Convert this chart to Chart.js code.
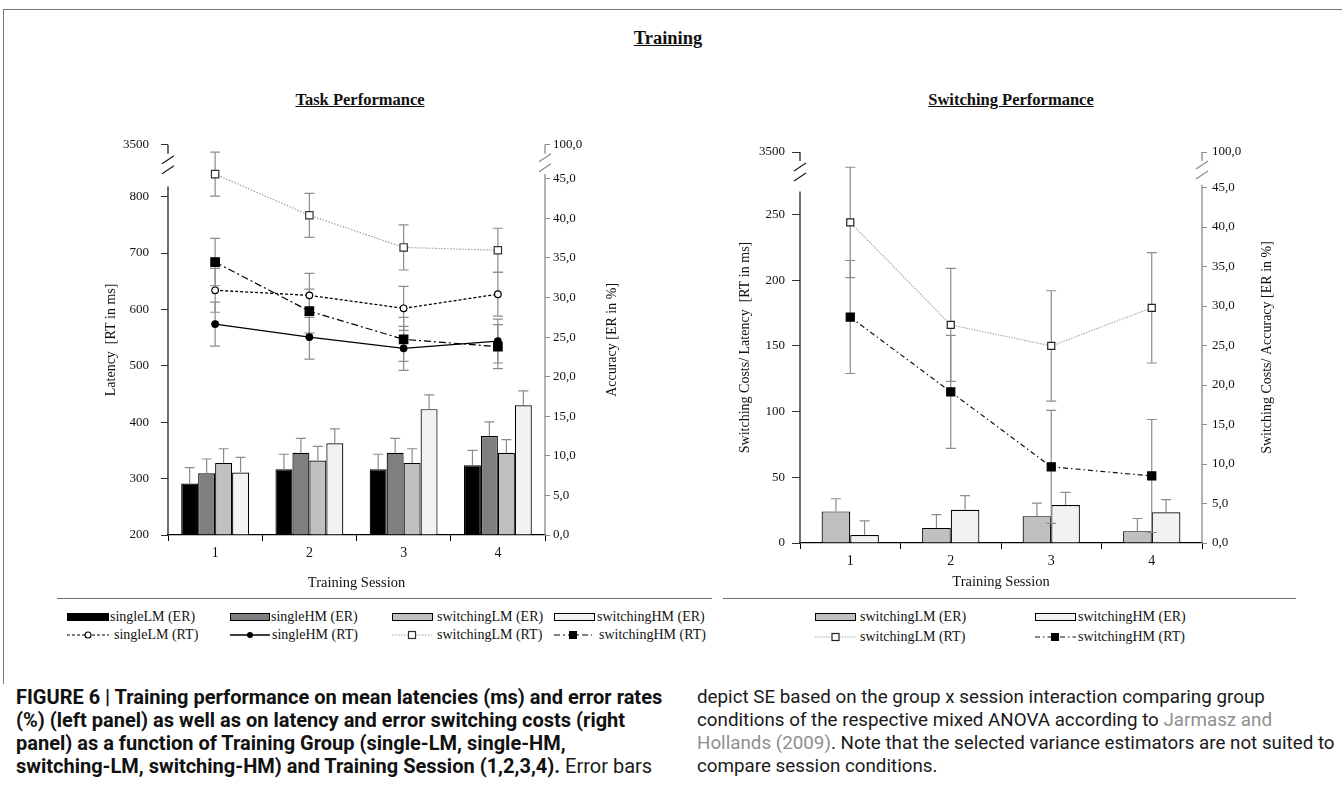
<!DOCTYPE html>
<html>
<head>
<meta charset="utf-8">
<script src="https://cdn.jsdelivr.net/npm/chart.js@4.4.0/dist/chart.umd.min.js"></script>
<style>
  body { margin: 0; width: 1342px; height: 791px; background: #fff; position: relative; overflow: hidden; font-family: 'Liberation Serif', 'Times New Roman', serif; color: #111; }
  .abs { position: absolute; }
  .head { position: absolute; text-align: center; font-weight: bold; text-decoration: underline; white-space: nowrap; }
  .sep { position: absolute; height: 0; border-top: 1.5px solid #6e6e6e; }
  .leg { position: absolute; font-size: 14px; line-height: 16px; white-space: nowrap; }
  .leg svg { position: absolute; }
  .cap { position: absolute; font-family: Roboto, 'Liberation Sans', sans-serif; line-height: 23px; white-space: nowrap; color: #1a1a1a; }
  .cap b { font-weight: bold; color: #111; }
  .ref { color: #8f8f8f; }
</style>
</head>
<body>
<div class="abs" style="left:3px;top:9px;width:1339px;border-top:1px solid #777;"></div>
<div class="abs" style="left:3px;top:9px;height:675px;border-left:1px solid #777;"></div>

<div class="head" style="left:568px;width:200px;top:28px;font-size:18.5px;">Training</div>
<div class="head" style="left:260px;width:200px;top:90px;font-size:16.5px;">Task Performance</div>
<div class="head" style="left:911px;width:200px;top:90px;font-size:16.5px;">Switching Performance</div>

<div class="abs" style="left:60px;top:125px;"><canvas id="taskChart" width="650" height="470"></canvas></div>
<div class="abs" style="left:715px;top:130px;"><canvas id="costChart" width="615" height="465"></canvas></div>

<div class="sep" style="left:57px;top:598px;width:655px;"></div>
<div class="sep" style="left:723px;top:598px;width:573px;"></div>

<!-- left legend -->
<div class="leg" style="left:67px;top:609px;"><svg width="42" height="10" style="left:0;top:3px"><rect x="0.5" y="1.5" width="41" height="7" fill="#000" stroke="#000"/></svg><span style="position:absolute;left:43px">singleLM&nbsp;(ER)</span></div>
<div class="leg" style="left:230px;top:609px;"><svg width="42" height="10" style="left:0;top:3px"><rect x="0.5" y="1.5" width="39" height="7" fill="#7f7f7f" stroke="#000"/></svg><span style="position:absolute;left:41px">singleHM&nbsp;(ER)</span></div>
<div class="leg" style="left:392px;top:609px;"><svg width="42" height="10" style="left:0;top:3px"><rect x="0.5" y="1.5" width="40" height="7" fill="#c0c0c0" stroke="#000"/></svg><span style="position:absolute;left:45px">switchingLM&nbsp;(ER)</span></div>
<div class="leg" style="left:554px;top:609px;"><svg width="42" height="10" style="left:0;top:3px"><rect x="0.5" y="1.5" width="40" height="7" fill="#f2f2f2" stroke="#000"/></svg><span style="position:absolute;left:43px">switchingHM&nbsp;(ER)</span></div>

<div class="leg" style="left:67px;top:627px;"><svg width="44" height="10" style="left:0;top:3px"><line x1="0" y1="5" x2="42" y2="5" stroke="#000" stroke-width="1.2" stroke-dasharray="3 2"/><circle cx="21" cy="5" r="3" fill="#fff" stroke="#000" stroke-width="1.1"/></svg><span style="position:absolute;left:47px">singleLM&nbsp;(RT)</span></div>
<div class="leg" style="left:230px;top:627px;"><svg width="42" height="10" style="left:0;top:3px"><line x1="0" y1="5" x2="40" y2="5" stroke="#000" stroke-width="1.3"/><circle cx="20" cy="5" r="3" fill="#000"/></svg><span style="position:absolute;left:42px">singleHM&nbsp;(RT)</span></div>
<div class="leg" style="left:392px;top:627px;"><svg width="42" height="10" style="left:0;top:3px"><line x1="0" y1="5" x2="40" y2="5" stroke="#9a9a9a" stroke-width="1" stroke-dasharray="1.5 1.5"/><rect x="16.5" y="1.5" width="7" height="7" fill="#fff" stroke="#333" stroke-width="1.2"/></svg><span style="position:absolute;left:45px">switchingLM&nbsp;(RT)</span></div>
<div class="leg" style="left:554px;top:627px;"><svg width="42" height="10" style="left:0;top:3px"><line x1="0" y1="5" x2="38" y2="5" stroke="#000" stroke-width="1.2" stroke-dasharray="6 3 2 3"/><rect x="15" y="1" width="8" height="8" fill="#000"/></svg><span style="position:absolute;left:45px">switchingHM&nbsp;(RT)</span></div>

<!-- right legend -->
<div class="leg" style="left:815px;top:609px;"><svg width="42" height="10" style="left:0;top:3px"><rect x="0.5" y="1.5" width="40" height="7" fill="#c0c0c0" stroke="#000"/></svg><span style="position:absolute;left:45px">switchingLM&nbsp;(ER)</span></div>
<div class="leg" style="left:1035px;top:609px;"><svg width="42" height="10" style="left:0;top:3px"><rect x="0.5" y="1.5" width="40" height="7" fill="#f2f2f2" stroke="#000"/></svg><span style="position:absolute;left:43px">switchingHM&nbsp;(ER)</span></div>
<div class="leg" style="left:815px;top:629px;"><svg width="42" height="10" style="left:0;top:3px"><line x1="0" y1="5" x2="41" y2="5" stroke="#a6a6a6" stroke-width="1" stroke-dasharray="1.5 1.2"/><rect x="17" y="1.5" width="7" height="7" fill="#fff" stroke="#222" stroke-width="1.2"/></svg><span style="position:absolute;left:45px">switchingLM&nbsp;(RT)</span></div>
<div class="leg" style="left:1035px;top:629px;"><svg width="42" height="10" style="left:0;top:3px"><line x1="0" y1="5" x2="41" y2="5" stroke="#111" stroke-width="1.2" stroke-dasharray="5 3 1.5 3"/><rect x="16" y="1" width="8" height="8" fill="#000"/></svg><span style="position:absolute;left:43px">switchingHM&nbsp;(RT)</span></div>

<div class="cap" style="left:16px;top:686px;font-size:20px;">
<b>FIGURE 6 | Training performance on mean latencies (ms) and error rates</b><br>
<b>(%) (left panel) as well as on latency and error switching costs (right</b><br>
<b>panel) as a function of Training Group (single-LM, single-HM,</b><br>
<b>switching-LM, switching-HM) and Training Session (1,2,3,4).</b> Error bars
</div>
<div class="cap" style="left:697px;top:686px;font-size:18.8px;">
depict SE based on the group x session interaction comparing group<br>
conditions of the respective mixed ANOVA according to <span class="ref">Jarmasz and</span><br>
<span class="ref">Hollands (2009)</span>. Note that the selected variance estimators are not suited to<br>
compare session conditions.
</div>

<script>
const sessions = ['1', '2', '3', '4'];

// Task performance: error rates in % (bars, right axis)
const singleLM_ER = [6.5, 8.3, 8.3, 8.8];
const singleHM_ER = [7.8, 10.4, 10.4, 12.5];
const switchingLM_ER = [9.1, 9.4, 9.1, 10.4];
const switchingHM_ER = [7.9, 11.6, 15.9, 16.4];
const singleLM_ER_se = [2.0, 1.9, 1.9, 1.9];
const singleHM_ER_se = [1.8, 1.8, 1.8, 1.8];
const switchingLM_ER_se = [1.8, 1.8, 1.8, 1.65];
const switchingHM_ER_se = [1.9, 1.8, 1.8, 1.8];

// Task performance: latencies in ms (lines, left axis)
const singleLM_RT = [634, 625, 602, 627];
const singleHM_RT = [574, 551, 531, 544];
const switchingLM_RT = [840, 767, 710, 705];
const switchingHM_RT = [684, 597, 547, 534];
const singleLM_RT_se = [39, 39, 39, 39];
const singleHM_RT_se = [39, 39, 39, 39];
const switchingLM_RT_se = [39, 39, 40, 39];
const switchingHM_RT_se = [42, 39, 39, 39];

// Switching costs
const costLM_ER = [4.0, 1.9, 3.4, 1.5];
const costHM_ER = [1.0, 4.2, 4.8, 3.9];
const costLM_ER_se = [1.6, 1.7, 1.65, 1.6];
const costHM_ER_se = [1.8, 1.8, 1.6, 1.6];
const costLM_RT = [244, 166, 150, 179];
const costHM_RT = [172, 115, 58, 51];
const costLM_RT_se = [42, 43, 42, 42];
const costHM_RT_se = [43, 43, 43, 43];

// tick labels
const taskRTTicks = [200, 300, 400, 500, 600, 700, 800];
const costRTTicks = [0, 50, 100, 150, 200, 250];
const erTicks = [0, 5, 10, 15, 20, 25, 30, 35, 40, 45];
const rtBreakLabel = '3500';
const erBreakLabel = '100,0';

const serif = "'Liberation Serif', 'Times New Roman', serif";
const fmtER = v => v.toFixed(1).replace('.', ',');

// error bars: drawn after bars, before the lines
const errorBars = {
  id: 'errorBars',
  beforeDatasetsDraw(chart) { chart.$errDone = false; },
  beforeDatasetDraw(chart, args) {
    const ds = chart.data.datasets[args.index];
    if (ds.type !== 'line' || chart.$errDone) return;
    chart.$errDone = true;
    const ctx = chart.ctx;
    chart.data.datasets.forEach((d, i) => {
      if (!d.errors) return;
      const meta = chart.getDatasetMeta(i);
      const scale = chart.scales[d.yAxisID];
      ctx.save();
      ctx.strokeStyle = '#8c8c8c';
      ctx.lineWidth = 1.2;
      meta.data.forEach((el, j) => {
        const v = d.data[j], e = d.errors[j];
        const x = el.x;
        const hi = scale.getPixelForValue(v + e);
        const lo = d.type === 'bar' ? scale.getPixelForValue(v) : scale.getPixelForValue(v - e);
        ctx.beginPath();
        ctx.moveTo(x, hi); ctx.lineTo(x, lo);
        ctx.moveTo(x - 5, hi); ctx.lineTo(x + 5, hi);
        if (d.type !== 'bar') { ctx.moveTo(x - 5, lo); ctx.lineTo(x + 5, lo); }
        ctx.stroke();
      });
      ctx.restore();
    });
  }
};

// broken y axes + right axis titles
const axisDecor = {
  id: 'axisDecor',
  afterDraw(chart, args, opts) {
    const ctx = chart.ctx;
    (opts.axes || []).forEach(a => {
      const s = chart.scales[a.id];
      const x = a.side === 'left' ? s.right : s.left;
      const yBase = s.getPixelForValue(s.min);
      const yLine = s.getPixelForValue(a.lineTop);
      const yTop = s.getPixelForValue(s.max);
      ctx.save();
      ctx.strokeStyle = a.color;
      ctx.lineWidth = 1.3;
      ctx.beginPath();
      ctx.moveTo(x, yBase); ctx.lineTo(x, yLine);
      ctx.moveTo(x, yTop); ctx.lineTo(x, yTop + 9);
      [yTop + a.slash1, yTop + a.slash1 + 10].forEach(yy => {
        ctx.moveTo(x - 6, yy + 4); ctx.lineTo(x + 6, yy - 4);
      });
      ctx.stroke();
      ctx.restore();
    });
    if (opts.rightTitle) {
      const s = chart.scales.yR;
      ctx.save();
      ctx.translate(s.left + opts.rightTitle.dx, (chart.chartArea.top + chart.chartArea.bottom) / 2);
      ctx.rotate(-Math.PI / 2);
      ctx.font = '14px ' + serif;
      ctx.fillStyle = '#111';
      ctx.textAlign = 'center';
      ctx.textBaseline = 'middle';
      ctx.fillText(opts.rightTitle.text, 0, 0);
      ctx.restore();
    }
  }
};

const setTicks = (arr) => (s) => { s.ticks = arr.concat([s.max]).map(v => ({ value: v })); };

function lineSet(label, data, errs, yAxisID, style) {
  return Object.assign({
    type: 'line', label, data, errors: errs, yAxisID, order: 1,
    tension: 0, fill: false, pointBorderWidth: 1.2
  }, style);
}
function barSet(label, data, errs, yAxisID, color) {
  return {
    type: 'bar', label, data, errors: errs, yAxisID, order: 2,
    backgroundColor: color, borderColor: '#000', borderWidth: 1.2
  };
}

function yLeft(min, max, ticks, width, tickLen, pad, title, titlePad) {
  return {
    position: 'left', min, max,
    afterBuildTicks: setTicks(ticks),
    afterFit: s => { s.width = width; },
    border: { display: false },
    grid: { drawOnChartArea: false, drawTicks: true, tickLength: tickLen, color: '#333' },
    ticks: { padding: pad, color: '#111', font: { family: serif, size: 13 },
      callback: v => v === max ? rtBreakLabel : String(v) },
    title: { display: true, text: title, color: '#111', font: { family: serif, size: 14 }, padding: { top: titlePad } }
  };
}
function yRight(max, width, tickLen, pad) {
  return {
    position: 'right', min: 0, max,
    afterBuildTicks: setTicks(erTicks),
    afterFit: s => { s.width = width; },
    border: { display: false },
    grid: { drawOnChartArea: false, drawTicks: true, tickLength: tickLen, color: '#8c8c8c' },
    ticks: { padding: pad, color: '#111', font: { family: serif, size: 13 },
      callback: v => v === max ? erBreakLabel : fmtER(v) }
  };
}
function xAxis(height, titlePad) {
  return {
    afterFit: s => { s.height = height; },
    offset: true,
    border: { display: true, color: '#000', width: 1.3 },
    grid: { offset: true, drawOnChartArea: false, drawTicks: true, tickLength: 6, color: '#000' },
    ticks: { padding: 4, color: '#111', font: { family: serif, size: 14 } },
    title: { display: true, text: 'Training Session', color: '#111', font: { family: serif, size: 14.5 }, padding: { bottom: titlePad } }
  };
}

const common = {
  responsive: false,
  animation: false,
  events: [],
  plugins: { legend: { display: false }, tooltip: { enabled: false } }
};

new Chart(document.getElementById('taskChart'), {
  type: 'bar',
  data: {
    labels: sessions,
    datasets: [
      barSet('singleLM (ER)', singleLM_ER, singleLM_ER_se, 'yR', '#000000'),
      barSet('singleHM (ER)', singleHM_ER, singleHM_ER_se, 'yR', '#7f7f7f'),
      barSet('switchingLM (ER)', switchingLM_ER, switchingLM_ER_se, 'yR', '#c0c0c0'),
      barSet('switchingHM (ER)', switchingHM_ER, switchingHM_ER_se, 'yR', '#f2f2f2'),
      lineSet('singleLM (RT)', singleLM_RT, singleLM_RT_se, 'yL', {
        borderColor: '#000', borderWidth: 1.3, borderDash: [3, 2],
        pointStyle: 'circle', pointRadius: 3.3, pointBackgroundColor: '#fff', pointBorderColor: '#000' }),
      lineSet('singleHM (RT)', singleHM_RT, singleHM_RT_se, 'yL', {
        borderColor: '#000', borderWidth: 1.3,
        pointStyle: 'circle', pointRadius: 3.3, pointBackgroundColor: '#000', pointBorderColor: '#000' }),
      lineSet('switchingLM (RT)', switchingLM_RT, switchingLM_RT_se, 'yL', {
        borderColor: '#9a9a9a', borderWidth: 1.1, borderDash: [1.5, 1.5],
        pointStyle: 'rect', pointRadius: 5.2, pointBackgroundColor: '#fff', pointBorderColor: '#333' }),
      lineSet('switchingHM (RT)', switchingHM_RT, switchingHM_RT_se, 'yL', {
        borderColor: '#000', borderWidth: 1.2, borderDash: [7, 3, 2, 3],
        pointStyle: 'rect', pointRadius: 6, pointBackgroundColor: '#000', pointBorderColor: '#000' })
    ]
  },
  options: Object.assign({}, common, {
    layout: { padding: { top: 19, left: 0, right: 0, bottom: 0 } },
    datasets: { bar: { categoryPercentage: 0.72, barPercentage: 1.0 } },
    scales: {
      x: xAxis(60, 3),
      yL: yLeft(200, 892, taskRTTicks, 108, 7, 12, 'Latency  [RT in ms]', 43),
      yR: yRight(49.3, 165, 5, 3)
    },
    plugins: Object.assign({}, common.plugins, {
      axisDecor: {
        axes: [
          { id: 'yL', side: 'left', lineTop: 818, color: '#222', slash1: 15 },
          { id: 'yR', side: 'right', lineTop: 45.6, color: '#8c8c8c', slash1: 13 }
        ],
        rightTitle: { text: 'Accuracy [ER in %]', dx: 67 }
      }
    })
  }),
  plugins: [errorBars, axisDecor]
});

new Chart(document.getElementById('costChart'), {
  type: 'bar',
  data: {
    labels: sessions,
    datasets: [
      barSet('switchingLM (ER)', costLM_ER, costLM_ER_se, 'yR', '#c0c0c0'),
      barSet('switchingHM (ER)', costHM_ER, costHM_ER_se, 'yR', '#f2f2f2'),
      lineSet('switchingLM (RT)', costLM_RT, costLM_RT_se, 'yL', {
        borderColor: '#a6a6a6', borderWidth: 1.1, borderDash: [1.5, 1.2],
        pointStyle: 'rect', pointRadius: 5, pointBackgroundColor: '#fff', pointBorderColor: '#222' }),
      lineSet('switchingHM (RT)', costHM_RT, costHM_RT_se, 'yL', {
        borderColor: '#111', borderWidth: 1.2, borderDash: [5, 3, 1.5, 3],
        pointStyle: 'rect', pointRadius: 5.7, pointBackgroundColor: '#000', pointBorderColor: '#000' })
    ]
  },
  options: Object.assign({}, common, {
    layout: { padding: { top: 22, left: 0, right: 0, bottom: 0 } },
    datasets: { bar: { categoryPercentage: 0.57, barPercentage: 1.0 } },
    scales: {
      x: xAxis(52, 4),
      yL: yLeft(0, 297.6, costRTTicks, 85, 8, 7, 'Switching Costs/ Latency  [RT in ms]', 22),
      yR: yRight(49.5, 128, 5, 5)
    },
    plugins: Object.assign({}, common.plugins, {
      axisDecor: {
        axes: [
          { id: 'yL', side: 'left', lineTop: 267.6, color: '#222', slash1: 15 },
          { id: 'yR', side: 'right', lineTop: 45.35, color: '#8c8c8c', slash1: 13 }
        ],
        rightTitle: { text: 'Switching Costs/ Accuracy [ER in %]', dx: 65 }
      }
    })
  }),
  plugins: [errorBars, axisDecor]
});
</script>
</body>
</html>
